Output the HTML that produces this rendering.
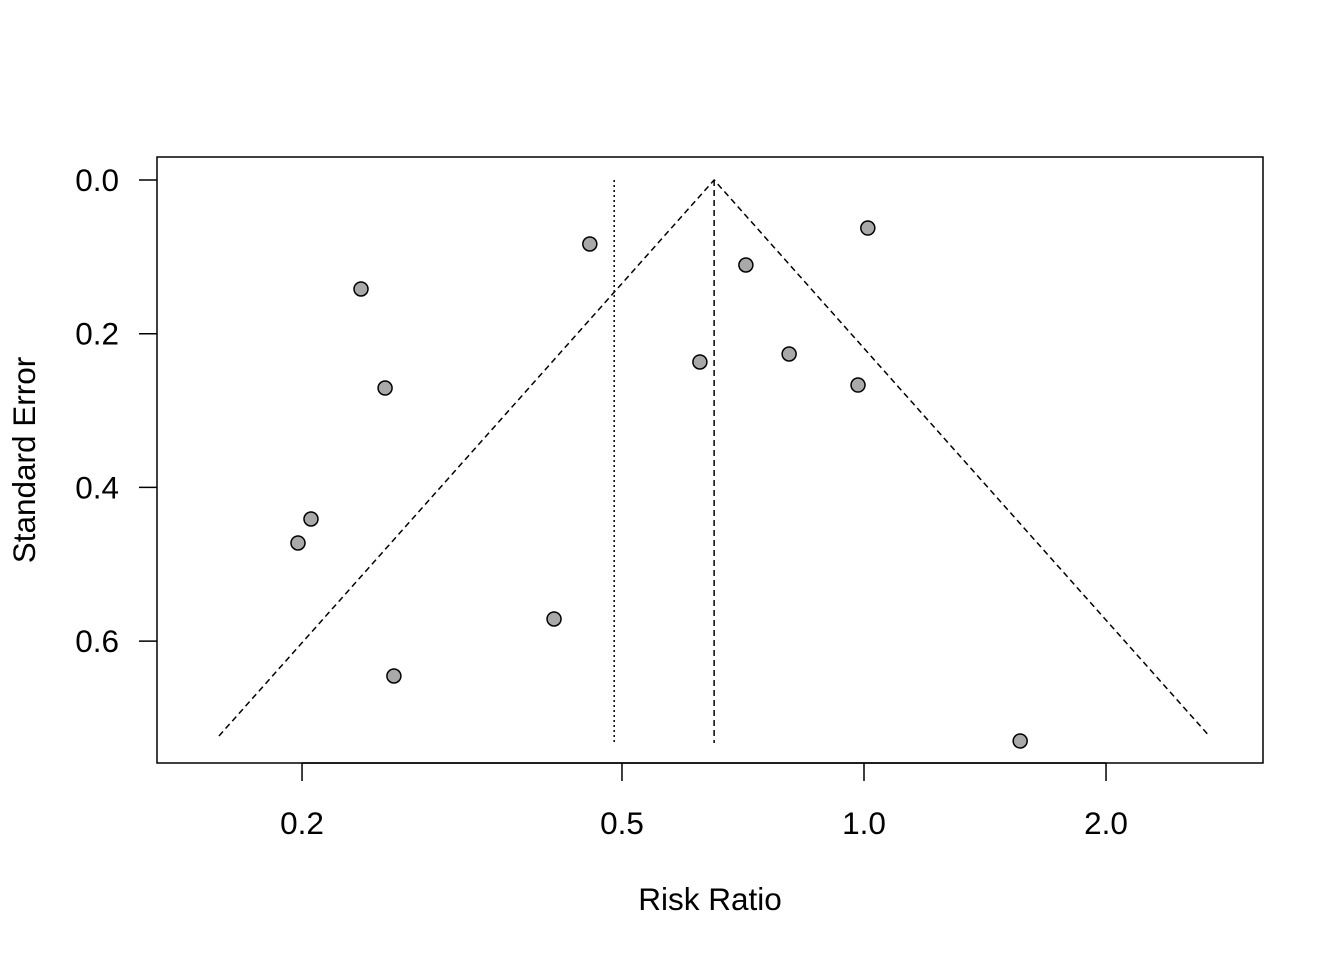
<!DOCTYPE html>
<html><head><meta charset="utf-8"><style>
body{margin:0;background:#fff}
svg{display:block;font-family:"Liberation Sans",sans-serif}
</style></head><body>
<svg id="chart" width="1344" height="960" viewBox="0 0 1344 960"></svg>
<script>
const riskRatios=[0.456,0.2368,0.2537,0.2052,0.1977,0.4116,0.2602,0.625,0.713,0.807,1.011,0.983,1.564];
const standardErrors=[0.0833,0.1418,0.2707,0.4411,0.4723,0.5712,0.6454,0.2368,0.1106,0.2264,0.0625,0.2668,0.730];
const xTicks=[0.2,0.5,1.0,2.0];
const xTickLabels=["0.2","0.5","1.0","2.0"];
const yTicks=[0,0.2,0.4,0.6];
const yTickLabels=["0.0","0.2","0.4","0.6"];
const pooledEstimate=[0.651];
const referenceLine=[0.489];
const maxSE=[0.7235];

const NS="http://www.w3.org/2000/svg";
const svg=document.getElementById('chart');
const X=v=>864+804*Math.log10(v);
const Y=s=>180+768.5*s;
function mk(t,a,p){const e=document.createElementNS(NS,t);for(const k in a)e.setAttribute(k,a[k]);(p||svg).appendChild(e);return e;}

const box=mk('rect',{x:157,y:157,width:1106,height:606,fill:'none',stroke:'#000','stroke-width':1.5});



const pe=pooledEstimate[0],sm=maxSE[0];
const lo=Math.exp(Math.log(pe)-1.96*sm),hi=Math.exp(Math.log(pe)+1.96*sm);
const fun=mk('polyline',{points:`${X(lo)},${Y(sm)} ${X(pe)},${Y(0)} ${X(hi)},${Y(sm)}`,fill:'none',stroke:'#000','stroke-width':1.5,'stroke-dasharray':'6,4'});


const vl=mk('line',{x1:X(pe),x2:X(pe),y1:Y(0),y2:743,stroke:'#000','stroke-width':1.5,'stroke-dasharray':'6,4'});


const rl=mk('line',{x1:X(referenceLine[0]),x2:X(referenceLine[0]),y1:Y(0),y2:743,stroke:'#000','stroke-width':1.5,'stroke-dasharray':'2,3'});



xTicks.forEach((v,i)=>{
 const l=mk('line',{x1:X(v),x2:X(v),y1:763,y2:781,stroke:'#000','stroke-width':1.5});
 
 
 const t=mk('text',{x:X(v),y:834,'font-size':31.5,'text-anchor':'middle'});
 t.textContent=xTickLabels[i];
 
 
});
const xa=mk('line',{x1:X(xTicks[0]),x2:X(xTicks[xTicks.length-1]),y1:763,y2:763,stroke:'#000','stroke-width':1.5});


yTicks.forEach((v,i)=>{
 const l=mk('line',{x1:139,x2:157,y1:Y(v),y2:Y(v),stroke:'#000','stroke-width':1.5});
 
 
 const t=mk('text',{x:119,y:Y(v)+11,'font-size':31.5,'text-anchor':'end'});
 t.textContent=yTickLabels[i];
 
 
});
const xt=mk('text',{x:710,y:910,'font-size':31.5,'text-anchor':'middle'});
xt.textContent='Risk Ratio';


const yt=mk('text',{x:0,y:0,'font-size':31.5,'text-anchor':'middle',transform:'translate(35,460) rotate(-90)'});
yt.textContent='Standard Error';



riskRatios.forEach((v,i)=>{
 const c=mk('circle',{cx:X(v),cy:Y(standardErrors[i]),r:7,fill:'#a9a9a9',stroke:'#000','stroke-width':1.5});
 
 
});
</script>
</body></html>
